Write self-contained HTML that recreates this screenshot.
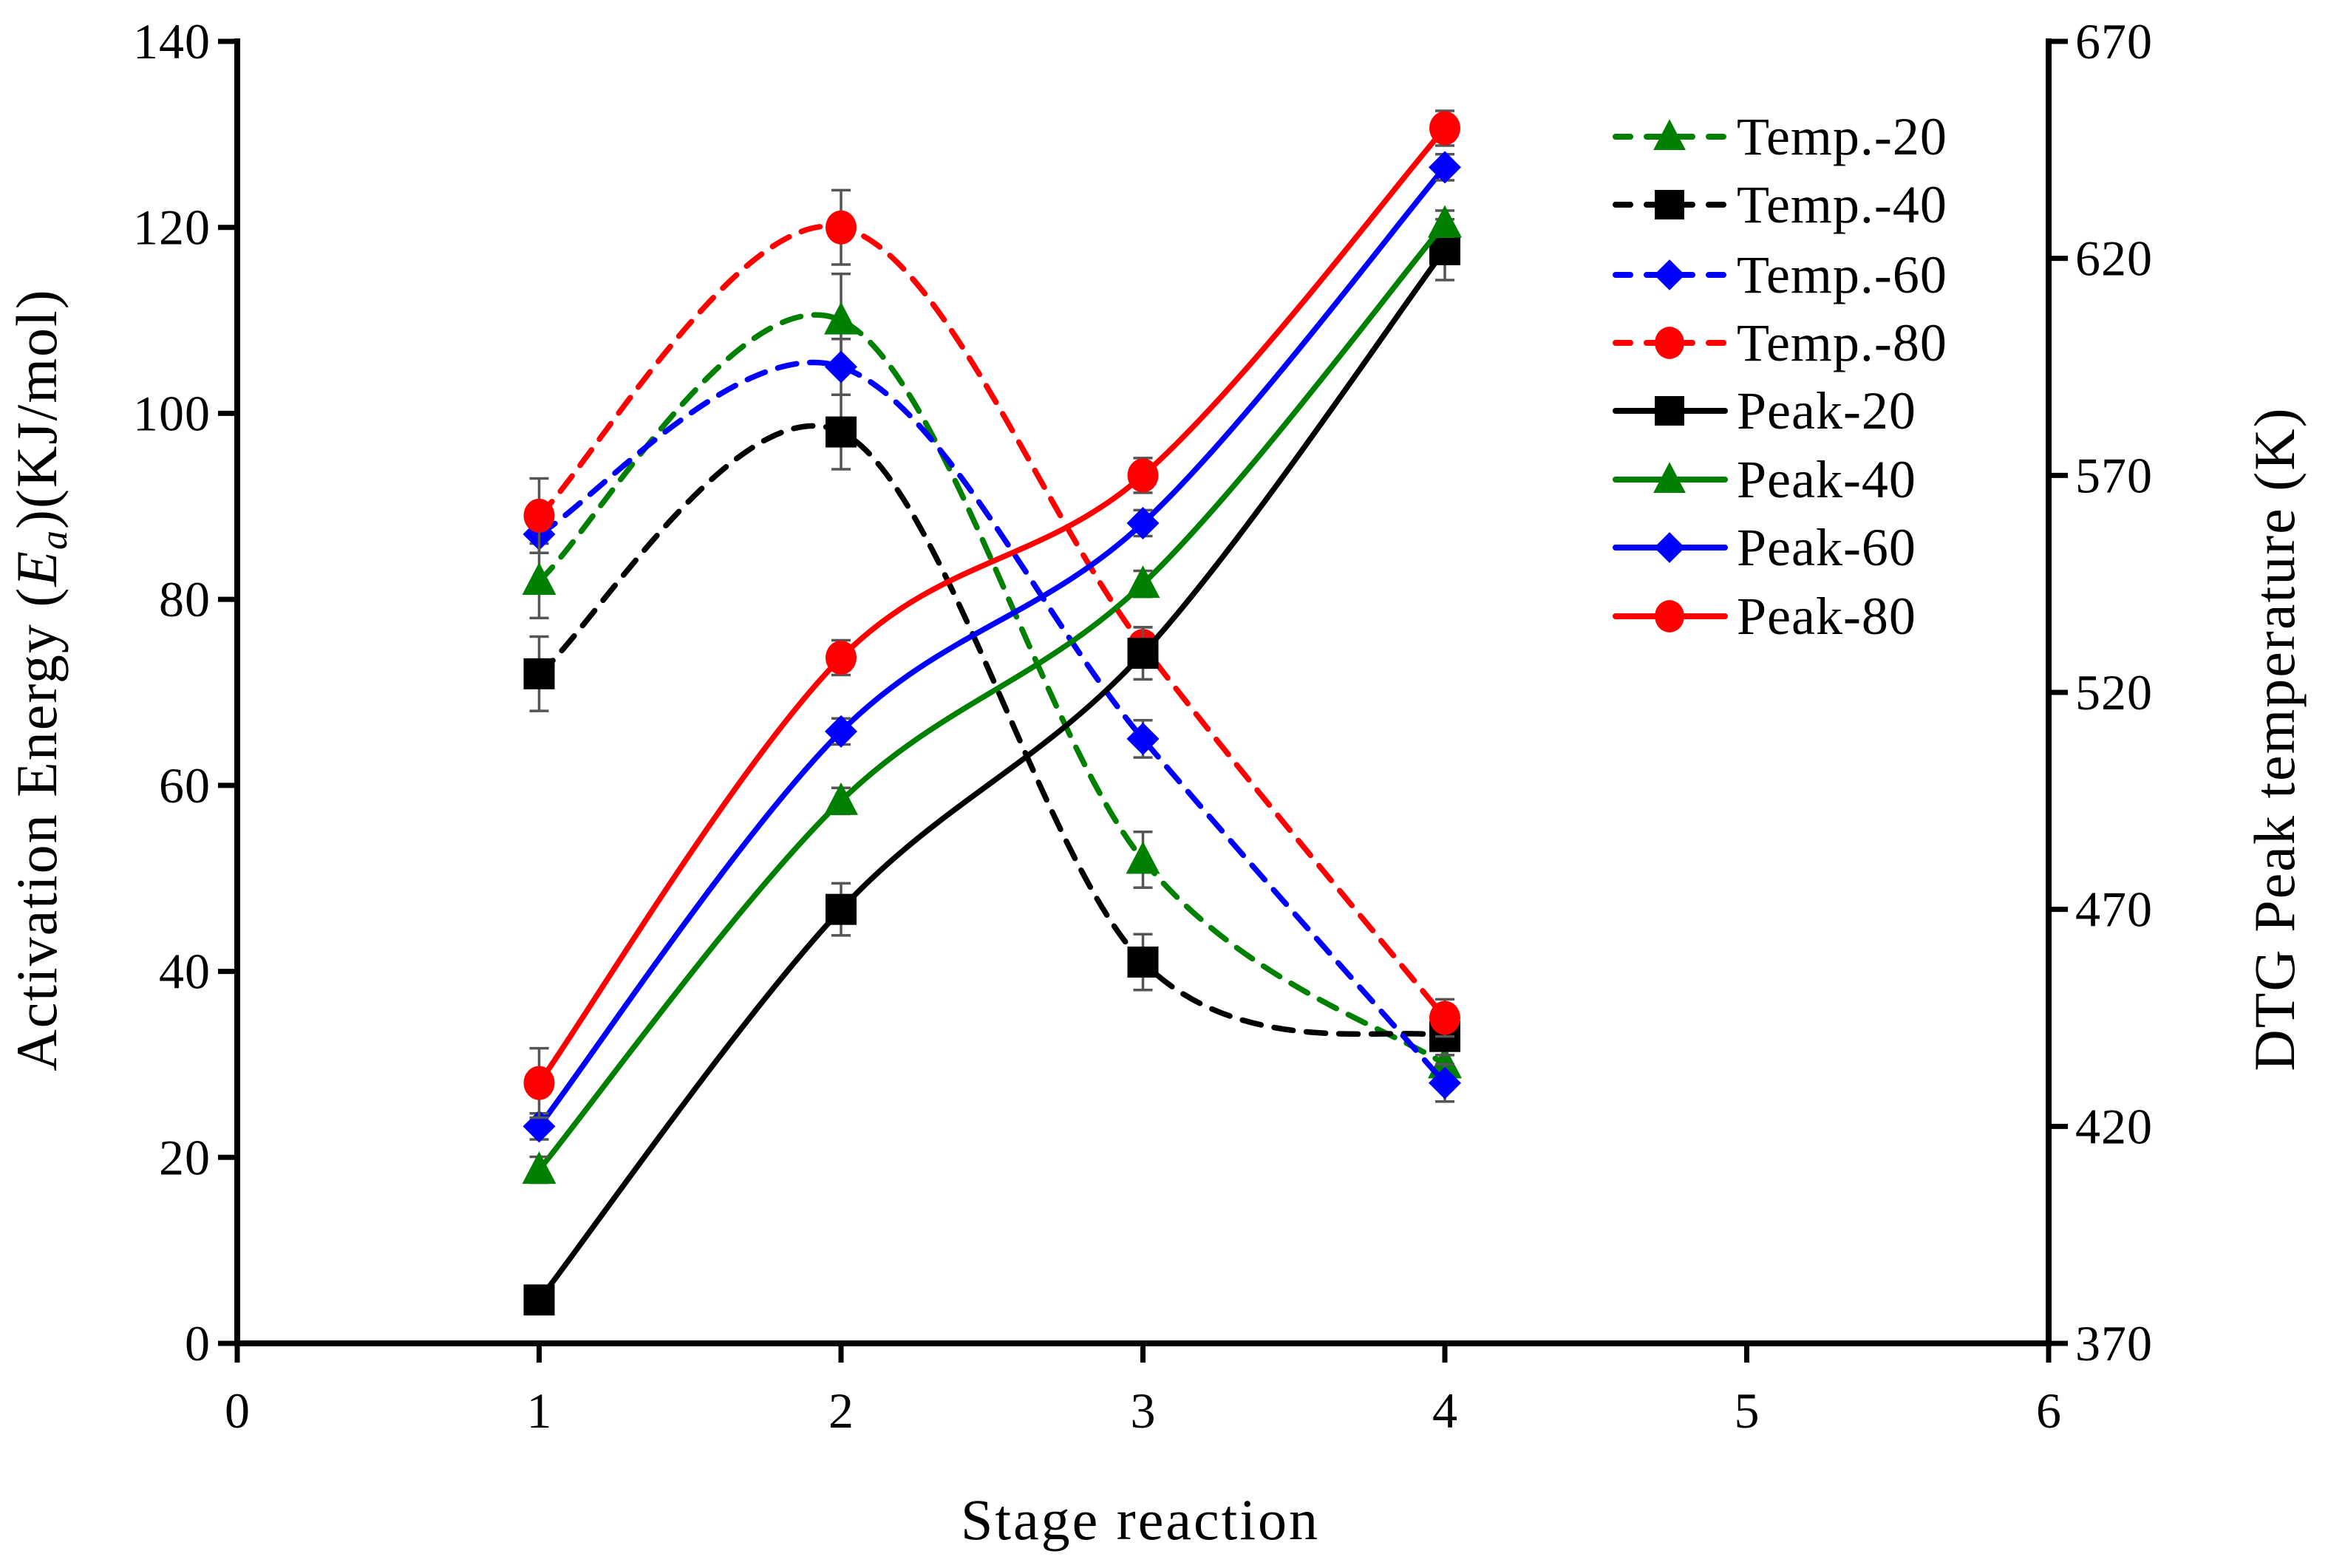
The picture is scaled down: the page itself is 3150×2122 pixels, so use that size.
<!DOCTYPE html>
<html><head><meta charset="utf-8">
<style>
html,body{margin:0;padding:0;background:#fff;}
svg{display:block;font-family:"Liberation Serif","DejaVu Serif",serif;}
</style></head>
<body>
<svg id="chart" width="3150" height="2122" viewBox="0 0 3150 2122" xmlns="http://www.w3.org/2000/svg">
<g id="grid"></g>
<g id="axes"></g>
<g id="series"></g>
<g id="legend"></g>
<text x="1543" y="2083" font-size="78" letter-spacing="3" text-anchor="middle">Stage reaction</text>
<text transform="translate(76,920) rotate(-90)" font-size="78" letter-spacing="2" text-anchor="middle">Activation Energy (<tspan font-style="italic">E</tspan><tspan font-style="italic" font-size="52" dy="14">a</tspan><tspan dy="-14">)(KJ/mol)</tspan></text>
<text transform="translate(3104,1000) rotate(-90)" font-size="78" letter-spacing="2" text-anchor="middle">DTG Peak temperature (K)</text>
</svg>
<script>
const stages = [1, 2, 3, 4];
const xTicks = [0, 1, 2, 3, 4, 5, 6];
const yTicks = [0, 20, 40, 60, 80, 100, 120, 140];
const y2Ticks = [370, 420, 470, 520, 570, 620, 670];
const temp20 = [82, 110, 52, 30];
const temp40 = [72, 98, 41, 33];
const temp60 = [87, 105, 65, 28];
const temp80 = [89, 120, 75, 35];
const temp20Err = [4, 5, 3, 2];
const temp40Err = [4, 4, 3, 2];
const temp60Err = [2, 3, 2, 2];
const temp80Err = [4, 4, 2, 2];
const peak20 = [380, 470, 529, 622];
const peak40 = [410, 495, 545, 628];
const peak60 = [420, 511, 559, 641];
const peak80 = [430, 528, 570, 650];
const peak20Err = [3, 6, 6, 7];
const peak40Err = [3, 3, 3, 3];
const peak60Err = [3, 3, 3, 3];
const peak80Err = [8, 4, 4, 4];
const seriesNames = ["Temp.-20","Temp.-40","Temp.-60","Temp.-80","Peak-20","Peak-40","Peak-60","Peak-80"];

const L=321,R=2772,T=56,B=1818;
const xs=v=>L+(v-0)/(6-0)*(R-L);
const ys=v=>B-(v-0)/(140-0)*(B-T);
const y2s=v=>B-(v-370)/(670-370)*(B-T);
const NS="http://www.w3.org/2000/svg";
function mk(tag,attrs,parent){const e=document.createElementNS(NS,tag);for(const k in attrs)e.setAttribute(k,attrs[k]);parent.appendChild(e);return e;}
const axes=document.getElementById('axes');
const series=document.getElementById('series');
const legend=document.getElementById('legend');

let a=mk('line',{x1:L,y1:T-4,x2:L,y2:B+4,stroke:'#000','stroke-width':8},axes);

a=mk('line',{x1:R,y1:T-4,x2:R,y2:B+4,stroke:'#000','stroke-width':8},axes);

a=mk('line',{x1:L-4,y1:B,x2:R+4,y2:B,stroke:'#000','stroke-width':8},axes);


xTicks.forEach(t=>{
  const x=xs(t);
  mk('line',{x1:x,y1:B,x2:x,y2:B+26,stroke:'#000','stroke-width':7},axes);
  const tx=mk('text',{x:x,y:B+114,'font-size':68,'text-anchor':'middle'},axes);
  tx.textContent=t;
  
  
});
yTicks.forEach(t=>{
  const y=ys(t);
  mk('line',{x1:L-26,y1:y,x2:L,y2:y,stroke:'#000','stroke-width':7},axes);
  const tx=mk('text',{x:L-36,y:y+23,'font-size':68,'text-anchor':'end','letter-spacing':1},axes);
  tx.textContent=t;
  
  
});
y2Ticks.forEach(t=>{
  const y=y2s(t);
  mk('line',{x1:R,y1:y,x2:R+26,y2:y,stroke:'#000','stroke-width':7},axes);
  const tx=mk('text',{x:R+36,y:y+23,'font-size':68,'text-anchor':'start','letter-spacing':1},axes);
  tx.textContent=t;
  
  
});

function smoothPath(pts){
  let d=`M${pts[0][0]},${pts[0][1]}`;
  for(let i=0;i<pts.length-1;i++){
    const p0=pts[i-1]||pts[i],p1=pts[i],p2=pts[i+1],p3=pts[i+2]||p2;
    const c1=[p1[0]+(p2[0]-p0[0])/6,p1[1]+(p2[1]-p0[1])/6];
    const c2=[p2[0]-(p3[0]-p1[0])/6,p2[1]-(p3[1]-p1[1])/6];
    d+=` C${c1[0]},${c1[1]} ${c2[0]},${c2[1]} ${p2[0]},${p2[1]}`;
  }
  return d;
}
function marker(shape,x,y,color,parent,s){
  s=s||1;
  if(shape==='square') return mk('rect',{x:x-21*s,y:y-21*s,width:42*s,height:42*s,fill:color},parent);
  if(shape==='tri') return mk('polygon',{points:`${x},${y-25*s} ${x+23*s},${y+19*s} ${x-23*s},${y+19*s}`,fill:color},parent);
  if(shape==='diamond') return mk('polygon',{points:`${x},${y-22*s} ${x+22*s},${y} ${x},${y+22*s} ${x-22*s},${y}`,fill:color},parent);
  return mk('ellipse',{cx:x,cy:y,rx:21*s,ry:23*s,fill:color},parent);
}
const defs=[
 {vals:temp20,err:temp20Err,sc:ys,color:'#008000',shape:'tri',dash:true},
 {vals:temp40,err:temp40Err,sc:ys,color:'#000000',shape:'square',dash:true},
 {vals:temp60,err:temp60Err,sc:ys,color:'#0000ff',shape:'diamond',dash:true},
 {vals:temp80,err:temp80Err,sc:ys,color:'#ff0000',shape:'circle',dash:true},
 {vals:peak20,err:peak20Err,sc:y2s,color:'#000000',shape:'square',dash:false},
 {vals:peak40,err:peak40Err,sc:y2s,color:'#008000',shape:'tri',dash:false},
 {vals:peak60,err:peak60Err,sc:y2s,color:'#0000ff',shape:'diamond',dash:false},
 {vals:peak80,err:peak80Err,sc:y2s,color:'#ff0000',shape:'circle',dash:false},
];
defs.forEach((s,i)=>{
  const g=mk('g',{},series);
  
  
  const pts=stages.map((st,j)=>[xs(st),s.sc(s.vals[j])]);
  const p=mk('path',{d:smoothPath(pts),fill:'none',stroke:s.color,'stroke-width':7.5,'stroke-dasharray':s.dash?'26,18':'none','stroke-linecap':'round'},g);
  
  
  stages.forEach((st,j)=>{
    const x=xs(st),y1=s.sc(s.vals[j]-s.err[j]),y2=s.sc(s.vals[j]+s.err[j]);
    mk('line',{x1:x,y1:y1,x2:x,y2:y2,stroke:'#555','stroke-width':3.5},g);
    mk('line',{x1:x-13,y1:y1,x2:x+13,y2:y1,stroke:'#555','stroke-width':3.5},g);
    mk('line',{x1:x-13,y1:y2,x2:x+13,y2:y2,stroke:'#555','stroke-width':3.5},g);
  });
  stages.forEach((st,j)=>{
    const m=marker(s.shape,xs(st),s.sc(s.vals[j]),s.color,g);
    
    
  });
});
const legY=[185,277,372,464,556,649,741,834];
defs.forEach((s,i)=>{
  const g=mk('g',{},legend);
  
  
  const y=legY[i];
  mk('line',{x1:2186,y1:y,x2:2334,y2:y,stroke:s.color,'stroke-width':8,'stroke-dasharray':s.dash?'20,22':'none','stroke-linecap':'round'},g);
  marker(s.shape,2259,y,s.color,g,0.95);
  const t=mk('text',{x:2350,y:y+24,'font-size':72,'letter-spacing':1},g);
  t.textContent=seriesNames[i];
});
</script>
</body></html>
